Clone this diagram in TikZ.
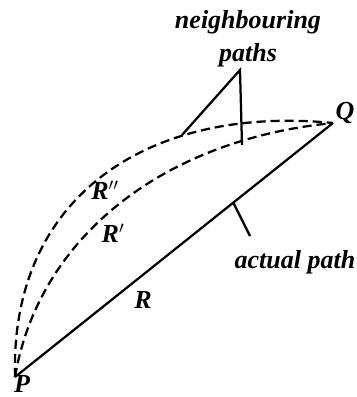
\documentclass[tikz,border=0pt]{standalone}
\usepackage{fontspec}
\setmainfont{Liberation Serif}

\begin{document}
\begin{tikzpicture}[x=0.025cm,y=-0.025cm,line width=1.6pt,
  lbl/.style={font=\fontsize{18.5}{23.5}\selectfont\bfseries\itshape,inner sep=0pt},
  nbpath/.style={dash pattern=on 6.5pt off 3.5pt}]
  \useasboundingbox(0,0)rectangle(357,397);
  \coordinate(P)at(15,377);
  \coordinate(Q)at(333,123);
  \coordinate(apex)at(240,70);
  \coordinate(onouter)at(182,135);
  \coordinate(oninner)at(242,145);
  \coordinate(online)at(233,202);
  \coordinate(lead)at(250,236);
  \draw(P)--(Q);
  \draw[nbpath](P).. controls (10,195) and (150,105) ..(Q);
  \draw[nbpath](P).. controls (38,240) and (160,140) ..(Q);
  \draw(onouter)--(apex)--(oninner);
  \draw(online)--(lead);
  \node[lbl,align=center](nb)at(248,39){neighbouring\\paths};
  \node[lbl](ap)at(295,262){actual path};
  \node[lbl](r)at(143,300){R};
  \node[lbl](r1)at(113,233){R$'$};
  \node[lbl](r2)at(105,190){R$''$};
  \node[lbl](p)at(22,384){P};
  \node[lbl](q)at(345,113){Q};
\end{tikzpicture}
\end{document}
